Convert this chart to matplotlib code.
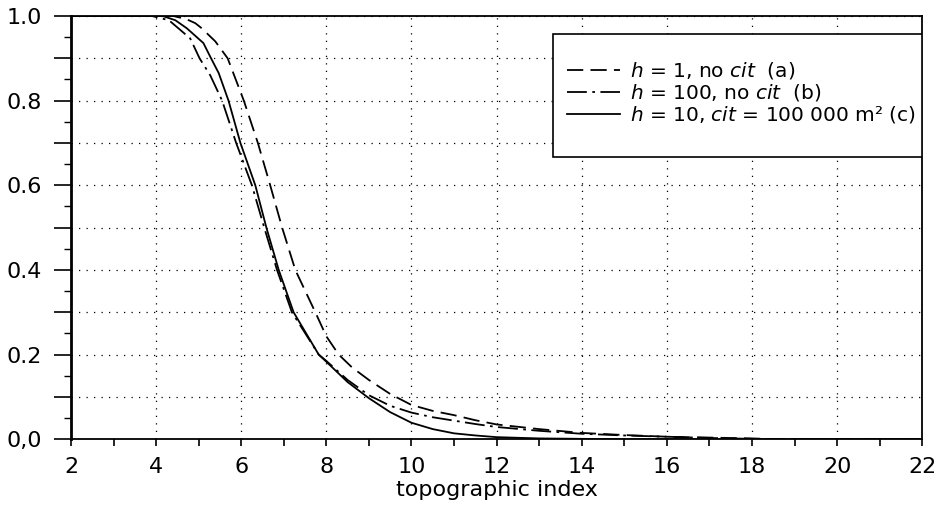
import matplotlib
matplotlib.use("Agg")
import matplotlib.pyplot as plt
from matplotlib.patches import Rectangle
from matplotlib.ticker import MultipleLocator, FixedLocator

plt.rcParams["font.family"] = ["DejaVu Sans"]
plt.rcParams["mathtext.fontset"] = "dejavusans"

# curve (a): h = 1, no cit
x_a = [2, 4.4, 4.7, 4.92, 5.07, 5.39, 5.68, 6.06, 6.39, 6.68, 6.96, 7.27, 7.74, 8.0,
       8.29, 8.6, 9.0, 9.5, 10, 10.5, 11, 11.5, 12, 13, 14, 15, 16, 17, 18, 18.6, 22]
y_a = [1, 1, 0.993, 0.983, 0.971, 0.94, 0.9, 0.8, 0.7, 0.6, 0.5, 0.4, 0.3, 0.243,
       0.2, 0.17, 0.14, 0.107, 0.081, 0.067, 0.057, 0.045, 0.035, 0.024, 0.015,
       0.010, 0.006, 0.004, 0.002, 0, 0]

# curve (b): h = 100, no cit
x_b = [2, 3.9, 4.3, 4.8, 5.02, 5.27, 5.55, 5.88, 6.25, 6.54, 6.84, 7.19, 7.82, 8.0,
       8.5, 9.0, 9.5, 10, 10.5, 11, 11.5, 12, 13, 14, 15, 16, 17, 18, 18.6, 22]
y_b = [1, 1, 0.99, 0.947, 0.9, 0.86, 0.8, 0.7, 0.6, 0.5, 0.4, 0.3, 0.2, 0.185,
       0.14, 0.104, 0.079, 0.063, 0.052, 0.044, 0.036, 0.029, 0.020, 0.013,
       0.009, 0.006, 0.003, 0.001, 0, 0]

# curve (c): h = 10, cit = 100 000 m2
x_c = [2, 4.15, 4.45, 4.72, 5.11, 5.29, 5.47, 5.70, 5.98, 6.33, 6.59, 6.88, 7.23,
       7.82, 8.0, 8.5, 9.0, 9.5, 10, 10.5, 11, 11.5, 12, 13, 14, 15, 22]
y_c = [1, 1, 0.99, 0.971, 0.936, 0.9, 0.865, 0.8, 0.7, 0.6, 0.5, 0.4, 0.3,
       0.2, 0.183, 0.135, 0.097, 0.064, 0.039, 0.024, 0.014, 0.009, 0.005,
       0.002, 0.001, 0, 0]

labels = [r"$h$ = 1, no $cit$  (a)",
          r"$h$ = 100, no $cit$  (b)",
          r"$h$ = 10, $cit$ = 100 000 m² (c)"]

x_ticks = [2, 4, 6, 8, 10, 12, 14, 16, 18, 20, 22]
y_ticks = [0.0, 0.1, 0.2, 0.3, 0.4, 0.5, 0.6, 0.7, 0.8, 0.9, 1.0]
y_ticklabels = ["0,0", "", "0.2", "", "0.4", "", "0.6", "", "0.8", "", "1.0"]

fig = plt.figure(figsize=(9.41, 5.09), dpi=100)
ax = fig.add_axes([0.0755, 0.137, 0.9045, 0.8316])

ax.plot(x_a, y_a, color="black", lw=1.3, linestyle=(0, (9, 4)), label=labels[0])
ax.plot(x_b, y_b, color="black", lw=1.3, linestyle=(0, (11, 3, 1.5, 3)), label=labels[1])
ax.plot(x_c, y_c, color="black", lw=1.3, linestyle="-", label=labels[2])

ax.set_xlim(2, 22)
ax.set_ylim(0, 1)

ax.set_xticks(x_ticks)
ax.xaxis.set_minor_locator(MultipleLocator(1))
ax.yaxis.set_major_locator(FixedLocator(y_ticks))
ax.set_yticklabels(y_ticklabels)
ax.yaxis.set_minor_locator(MultipleLocator(0.05))

ax.tick_params(axis="x", which="both", direction="out", length=5, width=1.2,
               labelsize=16, pad=8)
ax.tick_params(axis="y", which="major", direction="out", length=12, width=1.2,
               labelsize=16, pad=9)
ax.tick_params(axis="y", which="minor", direction="out", length=5, width=1.0)

for s in ax.spines.values():
    s.set_linewidth(1.3)
ax.spines["left"].set_linewidth(2)

ax.grid(True, which="major", color="black", lw=0.9, linestyle=(0, (1, 5)))
ax.set_axisbelow(True)

ax.set_xlabel("topographic index", fontsize=16, labelpad=2)

# legend box: wide vertical padding, tight on the right like the original
box = Rectangle((0.566, 0.667), 0.434, 0.29, transform=ax.transAxes,
                facecolor="white", edgecolor="black", lw=1.2, zorder=4)
ax.add_patch(box)

leg = ax.legend(loc="center right", bbox_to_anchor=(0.992, 0.819), fontsize=14.5,
                frameon=False, handlelength=2.6, handletextpad=0.5,
                labelspacing=0.05, borderpad=0, borderaxespad=0)
leg.set_zorder(5)

fig.savefig("out.png", dpi=100)
